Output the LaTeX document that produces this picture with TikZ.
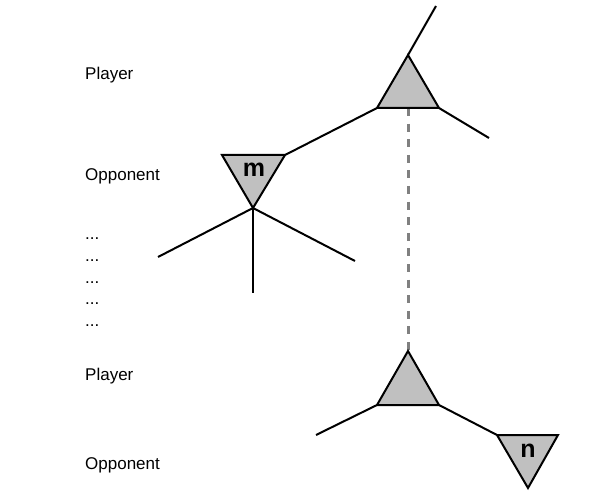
\documentclass[tikz,border=0pt]{standalone}
\usepackage{fontspec}
\setmainfont{Liberation Sans}
\begin{document}
\begin{tikzpicture}[x=1pt,y=-1pt,
  edge/.style={black,line width=2pt},
  tri/.style={draw=black,fill=trigray,line width=2pt,line join=miter},
  lbl/.style={anchor=base west,inner sep=0pt,font=\fontsize{17}{20}\selectfont},
  nlbl/.style={inner sep=0pt,font=\fontsize{25}{28}\selectfont\bfseries},
  dashlink/.style={draw=dashgray,line width=3pt,dash pattern=on 8pt off 7.6pt}]
\definecolor{trigray}{RGB}{192,192,192}
\definecolor{dashgray}{RGB}{128,128,128}
\useasboundingbox (0,0) rectangle (600,500);
% labels
\node[lbl] (p1) at (85,80) {Player};
\node[lbl] (o1) at (85,180.5) {Opponent};
\node[lbl] (d1) at (85,240) {...};
\node[lbl] (d2) at (85,261.5) {...};
\node[lbl] (d3) at (85,283) {...};
\node[lbl] (d4) at (85,304.5) {...};
\node[lbl] (d5) at (85,326) {...};
\node[lbl] (p2) at (85,380) {Player};
\node[lbl] (o2) at (85,469) {Opponent};
% top player triangle
\coordinate (A) at (408,55);
\coordinate (AL) at (377,108);
\coordinate (AR) at (439,108);
\coordinate (AB) at (408,108);
\coordinate (Atop) at (436,6);
\coordinate (Aright) at (489,138);
% m triangle
\coordinate (ML) at (222,155);
\coordinate (MR) at (285,155);
\coordinate (M) at (253,208);
\coordinate (M1) at (158,257);
\coordinate (M2) at (253,293);
\coordinate (M3) at (355,261);
% bottom player triangle
\coordinate (B) at (408,351);
\coordinate (BL) at (377,405);
\coordinate (BR) at (439,405);
\coordinate (Bleft) at (316,435);
% n triangle
\coordinate (NL) at (497,435);
\coordinate (NR) at (558,435);
\coordinate (N) at (528,488);
% dashed link
\draw[dashlink] (AB) -- (B);
% edges
\draw[edge] (A) -- (Atop);
\draw[edge] (AR) -- (Aright);
\draw[edge] (AL) -- (MR);
\draw[edge] (M) -- (M1);
\draw[edge] (M) -- (M2);
\draw[edge] (M) -- (M3);
\draw[edge] (BL) -- (Bleft);
\draw[edge] (BR) -- (NL);
% triangles
\draw[tri] (A) -- (AL) -- (AR) -- cycle;
\draw[tri] (ML) -- (MR) -- (M) -- cycle;
\draw[tri] (B) -- (BL) -- (BR) -- cycle;
\draw[tri] (NL) -- (NR) -- (N) -- cycle;
\node[nlbl] (m) at (254,170) {m};
\node[nlbl] (n) at (528,451) {n};
\end{tikzpicture}
\end{document}
